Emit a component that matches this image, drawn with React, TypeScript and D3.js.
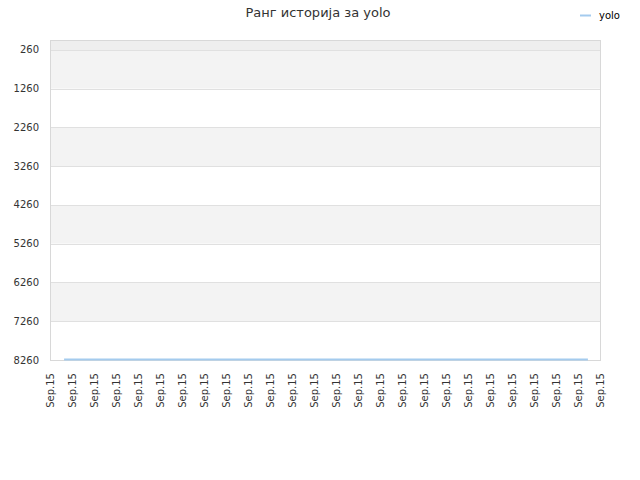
import { useRef, useEffect } from 'react';
import * as d3 from 'd3';

// ---------------------------------------------------------------------------
// Data
// ---------------------------------------------------------------------------
const TITLE = 'Ранг историја за yolo';
const SERIES_NAME = 'yolo';
const X_LABELS = Array.from({ length: 26 }, () => 'Sep.15');
const Y_TICKS = [260, 1260, 2260, 3260, 4260, 5260, 6260, 7260, 8260];
// line points: [position on the label axis, rank]
const RANK_POS = [0.64, 24.45];
const RANK_VALUES = [8250, 8250];

const LINE_COLOR = '#a4cbee';
const GRID_COLOR = '#e0e0e0';
const BAND_COLOR = '#f3f3f3';
const TOP_BAND = '#eeeeee';
const TEXT_COLOR = '#333333';
const FONT = '"DejaVu Sans", sans-serif';

export default function App() {
  const svgRef = useRef<SVGSVGElement>(null);

  useEffect(() => {
    const svg = svgRef.current;
    if (!svg) return;
    const sel = d3.select(svg);
    sel.selectAll('*').remove();

    const width = 640;
    const height = 480;
    const margin = { top: 40, right: 40, bottom: 120, left: 50 };
    const innerW = width - margin.left - margin.right;
    const innerH = height - margin.top - margin.bottom;

    const y = d3.scaleLinear().domain([2, 8260]).range([0, innerH]);
    const x = d3.scaleLinear().domain([0, X_LABELS.length - 1]).range([0, innerW]);

    const g = sel.append('g').attr('transform', `translate(${margin.left},${margin.top})`);

    // Top strip above first tick
    g.append('rect')
      .attr('x', 0)
      .attr('y', 0)
      .attr('width', innerW)
      .attr('height', y(Y_TICKS[0]))
      .attr('fill', TOP_BAND);

    // Alternating bands: gray, white, gray, white ...
    Y_TICKS.slice(0, -1).forEach((t, i) => {
      g.append('rect')
        .attr('x', 0)
        .attr('y', y(t))
        .attr('width', innerW)
        .attr('height', y(Y_TICKS[i + 1]) - y(t))
        .attr('fill', i % 2 === 0 ? BAND_COLOR : '#ffffff');
    });

    // Grid lines
    Y_TICKS.forEach((t) => {
      g.append('line')
        .attr('x1', 0)
        .attr('x2', innerW)
        .attr('y1', Math.round(y(t)) + 0.5)
        .attr('y2', Math.round(y(t)) + 0.5)
        .attr('stroke', GRID_COLOR)
        .attr('stroke-width', 1);
    });

    // Frame
    g.append('rect')
      .attr('x', 0.5)
      .attr('y', 0.5)
      .attr('width', innerW)
      .attr('height', innerH)
      .attr('fill', 'none')
      .attr('stroke', '#d8d8d8');

    // Y labels
    Y_TICKS.forEach((t) => {
      g.append('text')
        .attr('x', -11)
        .attr('y', y(t))
        .attr('text-anchor', 'end')
        .attr('dominant-baseline', 'central')
        .attr('fill', TEXT_COLOR)
        .attr('font-size', '10px')
        .attr('font-family', FONT)
        .text(String(t));
    });

    // X labels (rotated)
    X_LABELS.forEach((lab, i) => {
      g.append('text')
        .attr('transform', `translate(${x(i) + 3.5},${innerH + 13}) rotate(-90)`)
        .attr('text-anchor', 'end')
        .attr('fill', TEXT_COLOR)
        .attr('font-size', '10px')
        .attr('font-family', FONT)
        .text(lab);
    });

    // Line
    const pts = RANK_POS.map((p, i) => [p, RANK_VALUES[i]] as [number, number]);
    const line = d3
      .line<[number, number]>()
      .x((d) => x(d[0]))
      .y((d) => y(d[1]));
    g.append('path')
      .datum(pts)
      .attr('d', line)
      .attr('fill', 'none')
      .attr('stroke', LINE_COLOR)
      .attr('stroke-width', 2);

    // Title
    sel.append('text')
      .attr('x', 318)
      .attr('y', 17)
      .attr('text-anchor', 'middle')
      .attr('fill', TEXT_COLOR)
      .attr('font-size', '13px')
      .attr('font-family', FONT)
      .text(TITLE);

    // Legend
    sel.append('line')
      .attr('x1', 580)
      .attr('x2', 591)
      .attr('y1', 15.5)
      .attr('y2', 15.5)
      .attr('stroke', LINE_COLOR)
      .attr('stroke-width', 2);
    sel.append('text')
      .attr('x', 599)
      .attr('y', 15)
      .attr('dominant-baseline', 'central')
      .attr('fill', '#000')
      .attr('font-size', '10px')
      .attr('font-family', FONT)
      .text(SERIES_NAME);
  }, []);

  return (
    <div style={{ position: 'absolute', left: 0, top: 0 }}>
      <svg ref={svgRef} width={640} height={480} style={{ display: 'block' }} />
    </div>
  );
}
